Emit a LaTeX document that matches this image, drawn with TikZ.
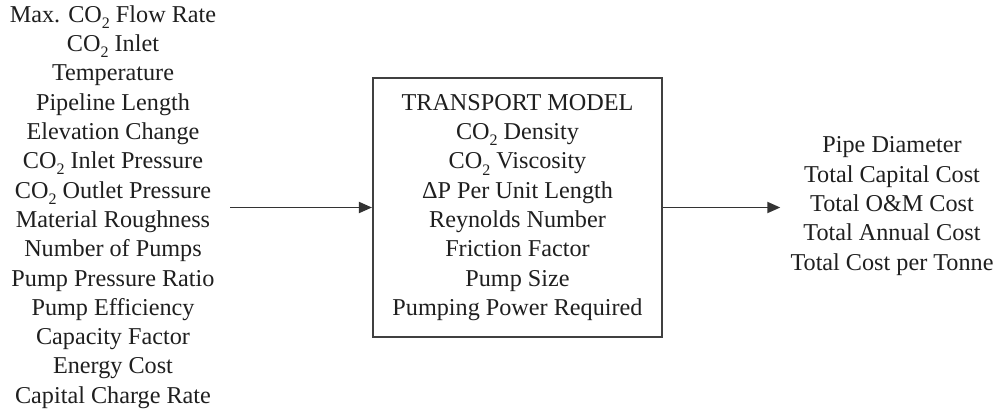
\documentclass[tikz,border=0pt]{standalone}
\usepackage{fontspec}
\setmainfont{Liberation Serif}
\usetikzlibrary{arrows.meta}
% CO2 with a low-set subscript
\newcommand{\cotwo}{CO\raisebox{-0.55ex}{\fontsize{16}{16}\selectfont 2}}
\tikzset{
  txt/.style={align=center, inner sep=0pt, text=black!88,
    font=\fontsize{24.2}{29.3}\selectfont},
  modelbox/.style={txt, draw=black!75, line width=2.1pt,
    minimum width=289pt, minimum height=259pt},
  flow/.style={draw=black!80, line width=1.8pt,
    -{Triangle[length=13pt,width=11pt]}}
}
\begin{document}
\begin{tikzpicture}[x=1pt,y=-1pt]
\useasboundingbox (0,0) rectangle (1001,412);
\fill[white] (0,0) rectangle (1001,412);

% inputs
\node[txt] (inputs) at (113,207) {Max. \cotwo{} Flow Rate\\ \cotwo{} Inlet\\ Temperature\\
  Pipeline Length\\ Elevation Change\\ \cotwo{} Inlet Pressure\\ \cotwo{} Outlet Pressure\\
  Material Roughness\\ Number of Pumps\\ Pump Pressure Ratio\\ Pump Efficiency\\
  Capacity Factor\\ Energy Cost\\ Capital Charge Rate};

% model
\node[modelbox] (model) at (517.5,207.5) {TRANSPORT MODEL\\ \cotwo{} Density\\ \cotwo{} Viscosity\\
  ΔP Per Unit Length\\ Reynolds Number\\ Friction Factor\\ Pump Size\\ Pumping Power Required};

% outputs
\node[txt] (outputs) at (892,206) {Pipe Diameter\\ Total Capital Cost\\ Total O\&M Cost\\
  Total Annual Cost\\ Total Cost per Tonne};

\draw[flow, shorten <=14pt] (inputs.east |- model.west) -- (model.west);
\draw[flow, shorten >=10pt] (model.east) -- (outputs.west |- model.east);
\end{tikzpicture}
\end{document}
